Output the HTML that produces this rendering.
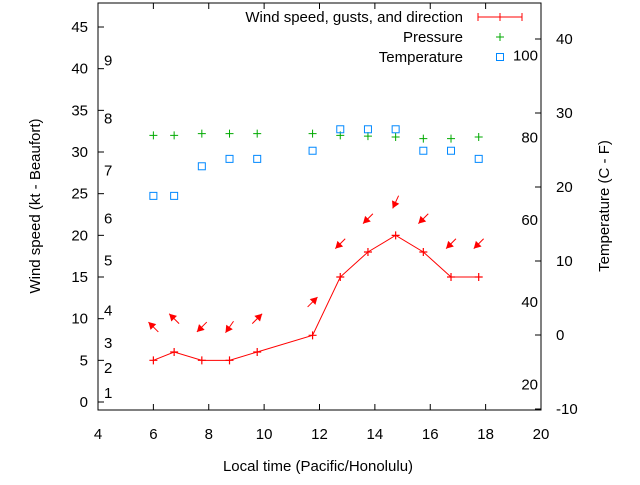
<!DOCTYPE html>
<html><head><meta charset="utf-8"><style>
body{margin:0;background:#fff}
svg{font-family:"Liberation Sans",sans-serif;font-size:15px}
</style></head><body>
<svg id="c" width="640" height="480" xmlns="http://www.w3.org/2000/svg"></svg>
<script>
const times=[6,6.75,7.75,8.75,9.75,11.75,12.75,13.75,14.75,15.75,16.75,17.75];
const wind=[5,6,5,5,6,8,15,18,20,18,15,15];
const dirFrom=[135,135,45,35,225,225,45,45,25,45,45,45];
const pressure=[32.0,32.0,32.2,32.2,32.2,32.2,32.0,31.9,31.8,31.6,31.6,31.8];
const tempC=[18.8,18.8,22.8,23.8,23.8,24.9,27.8,27.8,27.8,24.9,24.9,23.8];
const xTicks=[4,6,8,10,12,14,16,18,20];
const yTicks=[0,5,10,15,20,25,30,35,40,45];
const cTicks=[-10,0,10,20,30,40];
const fTicks=[20,40,60,80,100];
const bftLabels=[[1,1.1],[2,4.1],[3,7.1],[4,11],[5,17],[6,22],[7,27.8],[8,34],[9,41]];
const L=98,R=541,T=3,B=410;
const X=v=>L+(v-4)/16*(R-L);
const Y=v=>402-v*8.333;
const YC=c=>335-c*7.4;
const YF=f=>YC((f-32)*5/9);
const s=document.getElementById('c');const NS='http://www.w3.org/2000/svg';
function el(t,a,p){const e=document.createElementNS(NS,t);for(const k in a)e.setAttribute(k,a[k]);(p||s).appendChild(e);return e;}
function txt(x,y,str,anchor,extra){const e=el('text',Object.assign({x:x,y:y,'text-anchor':anchor||'start',fill:'#000'},extra||{}));e.textContent=str;return e;}
let f=el('rect',{x:L,y:T,width:R-L,height:B-T,fill:'none',stroke:'#000'});

xTicks.forEach(v=>{el('line',{x1:X(v),x2:X(v),y1:B,y2:B-6,stroke:'#000'});el('line',{x1:X(v),x2:X(v),y1:T,y2:T+6,stroke:'#000'});
 const t=txt(X(v),439,String(v),'middle');});
yTicks.forEach(v=>{el('line',{x1:L,x2:L+6,y1:Y(v),y2:Y(v),stroke:'#000'});
 const t=txt(L-10,Y(v)+5,String(v),'end');});
cTicks.forEach(v=>{el('line',{x1:R,x2:R-6,y1:YC(v),y2:YC(v),stroke:'#000'});
 const t=txt(R+15,YC(v)+5,String(v),'start');});
fTicks.forEach(v=>{const t=txt(R-3,YF(v)+5,String(v),'end');});
bftLabels.forEach(b=>{const t=txt(104,Y(b[1])+5,String(b[0]),'start');});
let t1=txt(318,471,'Local time (Pacific/Honolulu)','middle');
let t2=txt(0,0,'Wind speed (kt - Beaufort)','middle',{transform:'translate(40,206) rotate(-90)'});
let t3=txt(0,0,'Temperature (C - F)','middle',{transform:'translate(609,206) rotate(-90)'});
let ln=el('polyline',{points:times.map((t,i)=>X(t)+','+Y(wind[i])).join(' '),fill:'none',stroke:'#f00'});

times.forEach((t,i)=>{const x=X(t),y=Y(wind[i]);const g=el('path',{d:`M${x-4},${y}h8M${x},${y-4}v8`,stroke:'#f00','stroke-width':1.2});
 
 const a=(dirFrom[i]+180)*Math.PI/180;const dx=Math.sin(a),dy=-Math.cos(a);const cx=x,cy=Y(wind[i]+4);
 const hx=cx+dx*7,hy=cy+dy*7,tx=cx-dx*7,ty=cy-dy*7;
 const ar=el('g',{});
 el('line',{x1:tx,y1:ty,x2:hx,y2:hy,stroke:'#f00'},ar);
 const px=-dy,py=dx;
 el('polygon',{points:`${hx},${hy} ${hx-dx*7+px*4},${hy-dy*7+py*4} ${hx-dx*7-px*4},${hy-dy*7-py*4}`,fill:'#f00'},ar);
});
times.forEach((t,i)=>{const x=X(t),y=Y(pressure[i]);const g=el('path',{d:`M${x-4},${y}h8M${x},${y-4}v8`,stroke:'#0a0'});
 });
times.forEach((t,i)=>{const x=X(t),y=YC(tempC[i]);const g=el('rect',{x:x-3.5,y:y-3.5,width:7,height:7,fill:'none',stroke:'#08f'});
 });
let l1=txt(463,22,'Wind speed, gusts, and direction','end');
el('path',{d:'M478,17h44M478,13v8M500,13v8M522,13v8',stroke:'#f00'});
let l2=txt(463,42,'Pressure','end');
el('path',{d:'M496,37h8M500,33v8',stroke:'#0a0'});
let l3=txt(463,62,'Temperature','end');
el('rect',{x:496.5,y:53.5,width:7,height:7,fill:'none',stroke:'#08f'});
</script>
</body></html>
